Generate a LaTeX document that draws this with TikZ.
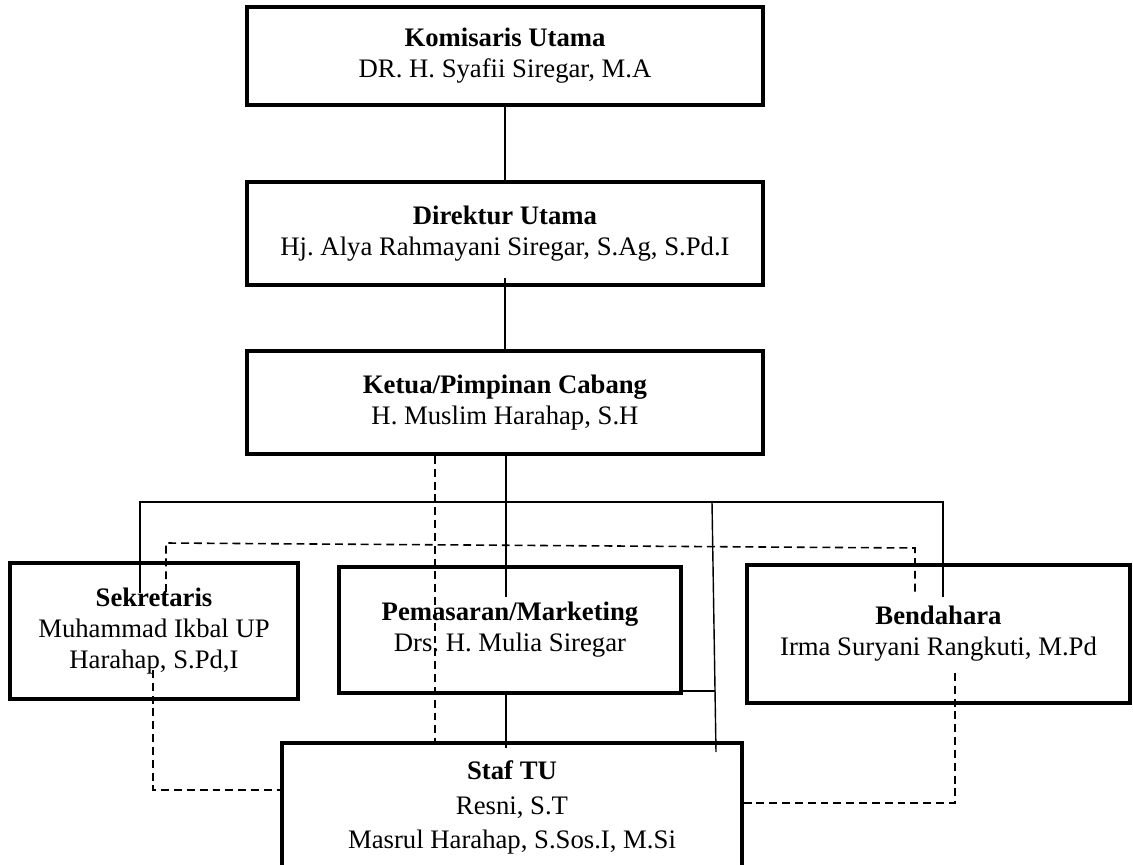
\documentclass[tikz,border=0pt]{standalone}
\usepackage{fontspec}
\setmainfont{Liberation Serif}
\usepackage{tikz}
\frenchspacing

\begin{document}
\begin{tikzpicture}[x=0.02cm,y=-0.02cm]
\tikzstyle{every node}=[font=\fontsize{15.2}{17.6}\selectfont\frenchspacing, align=center]
\tikzstyle{box}=[draw, line width=2.3pt, rectangle, inner sep=2pt]
\tikzstyle{link}=[line width=0.8pt]
\tikzstyle{dlink}=[line width=0.9pt, dash pattern=on 4.5pt off 2.8pt]
\useasboundingbox (0,0) rectangle (1133,865);
\clip (0,0) rectangle (1133,865);
\node [box, minimum width=10.32cm, minimum height=1.96cm] (kom) at (505,56) {\textbf{Komisaris Utama}\\DR. H. Syafii Siregar, M.A};
\node [box, minimum width=10.32cm, minimum height=2.06cm] (dir) at (505,233.5) {\textbf{Direktur Utama}\\Hj. Alya Rahmayani Siregar, S.Ag, S.Pd.I};
\node [box, minimum width=10.32cm, minimum height=2.06cm] (ketua) at (505,402.5) {\textbf{Ketua/Pimpinan Cabang}\\H. Muslim Harahap, S.H};
\node [box, minimum width=5.76cm, minimum height=2.72cm] (sek) at (154,631) {\textbf{Sekretaris}\\Muhammad Ikbal UP\\Harahap, S.Pd,I};
\node [box, minimum width=6.84cm, minimum height=2.52cm] (pem) at (510,630) {\textbf{Pemasaran/Marketing}\\Drs. H. Mulia Siregar};
\node [box, minimum width=7.66cm, minimum height=2.76cm] (ben) at (938.5,634) {\textbf{Bendahara}\\Irma Suryani Rangkuti, M.Pd};
\node [box, minimum width=9.2cm, minimum height=2.58cm] (staf) at (512,807.5) {\textbf{Staf TU}\\[2pt]Resni, S.T\\[2pt]Masrul Harahap, S.Sos.I, M.Si};
\coordinate (busL) at (140,502);
\coordinate (busR) at (943,502);
\coordinate (busT) at (712,502);
\coordinate (sekIn) at (140,593);
\coordinate (benIn) at (943,597);
\coordinate (tuIn) at (716,752);
\coordinate (pemIn) at (506,597);
\coordinate (pemR) at (715,691);
\coordinate (mid) at (506,0);
\coordinate (dl) at (435,0);
\coordinate (sekD) at (166,592);
\coordinate (sekDT) at (166,543);
\coordinate (benDT) at (915,548);
\coordinate (benD) at (915,595);
\coordinate (sekB) at (153,670);
\coordinate (sekBB) at (153,790);
\coordinate (benB) at (955,673);
\coordinate (benBB) at (955,803);
\draw [link] (kom.south) -- (dir.north);
\draw [link] ([yshift=5pt]dir.south) -- (ketua.north);
\draw [link] (ketua.south -| mid) -- (pemIn);
\draw [link] (sekIn) -- (busL) -- (busR) -- (benIn);
\draw [link] (busT) -- (tuIn);
\draw [link] (pem.south east |- pemR) -- (pemR);
\draw [link] (pem.south -| mid) -- ([yshift=-4pt]staf.north -| mid);
\draw [dlink] (ketua.south -| dl) -- (staf.north -| dl);
\draw [dlink] (sekD) -- (sekDT) -- (benDT) -- (benD);
\draw [dlink] (sekB) -- (sekBB) -- (staf.west |- sekBB);
\draw [dlink] (benB) -- (benBB) -- (staf.east |- benBB);
\end{tikzpicture}
\end{document}
